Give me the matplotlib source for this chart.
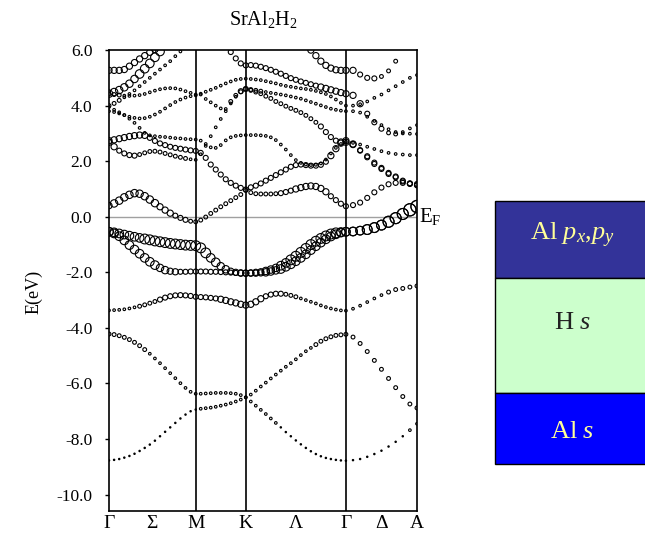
import numpy as np
import matplotlib.pyplot as plt
from matplotlib.patches import Rectangle

plt.rcParams['font.family'] = ['Liberation Serif', 'DejaVu Serif']
plt.rcParams['mathtext.fontset'] = 'custom'
plt.rcParams['mathtext.rm'] = 'Liberation Serif'
plt.rcParams['mathtext.it'] = 'Liberation Serif:italic'
plt.rcParams['axes.unicode_minus'] = False

# === k-path: Γ-M, M-K, K-Γ, Γ-A ===
seg_len = [0.866, 0.5, 1.0, 0.71]
seg_steps = [17, 10, 20, 10]
k_labels = ["Γ", "Σ", "M", "K", "Λ", "Γ", "Δ", "A"]

# === bands (eV), one value per k-point: 18 | 10 | 20 | 10 ===
band_1 = [-8.77, -8.75, -8.72, -8.67, -8.61, -8.53, -8.43, -8.32, -8.2, -8.06, -7.9, -7.74, -7.58, -7.42, -7.26, -7.12, -7.0, -6.94,
          -6.91, -6.89, -6.87, -6.84, -6.8, -6.76, -6.71, -6.65, -6.58, -6.5,
          -6.65, -6.8, -6.95, -7.1, -7.26, -7.42, -7.58, -7.75, -7.9, -8.05, -8.19, -8.32, -8.44, -8.54, -8.62, -8.68, -8.72, -8.75, -8.77, -8.78,
          -8.76, -8.72, -8.64, -8.54, -8.42, -8.27, -8.1, -7.9, -7.68, -7.45]
band_2 = [-4.22, -4.24, -4.28, -4.34, -4.42, -4.52, -4.64, -4.78, -4.93, -5.1, -5.27, -5.45, -5.63, -5.81, -5.99, -6.16, -6.3, -6.37,
          -6.37, -6.36, -6.35, -6.34, -6.34, -6.34, -6.35, -6.37, -6.42, -6.5,
          -6.4, -6.26, -6.11, -5.97, -5.82, -5.68, -5.54, -5.4, -5.27, -5.13, -4.98, -4.84, -4.72, -4.6, -4.48, -4.39, -4.32, -4.27, -4.25, -4.23,
          -4.33, -4.56, -4.85, -5.17, -5.49, -5.82, -6.15, -6.47, -6.74, -6.88]
band_3 = [-3.37, -3.36, -3.35, -3.33, -3.3, -3.26, -3.22, -3.17, -3.11, -3.05, -2.98, -2.91, -2.86, -2.83, -2.82, -2.83, -2.85, -2.88,
          -2.89, -2.9, -2.92, -2.94, -2.97, -3.01, -3.06, -3.1, -3.15, -3.18,
          -3.15, -3.06, -2.95, -2.86, -2.8, -2.77, -2.77, -2.79, -2.83, -2.88, -2.94, -3.0, -3.06, -3.12, -3.19, -3.25, -3.3, -3.34, -3.37, -3.38,
          -3.31, -3.2, -3.07, -2.94, -2.82, -2.71, -2.62, -2.58, -2.53, -2.49]
band_4 = [-0.54, -0.6, -0.7, -0.85, -1.02, -1.18, -1.33, -1.48, -1.62, -1.74, -1.84, -1.92, -1.96, -1.98, -1.98, -1.98, -1.97, -1.97,
          -1.97, -1.97, -1.98, -1.98, -1.99, -2.0, -2.01, -2.02, -2.03, -2.03,
          -2.03, -2.03, -2.02, -2.0, -1.97, -1.93, -1.88, -1.8, -1.71, -1.6, -1.48, -1.35, -1.2, -1.06, -0.93, -0.81, -0.71, -0.63, -0.57, -0.54,
          -0.53, -0.5, -0.46, -0.39, -0.3, -0.18, -0.05, 0.1, 0.25, 0.37]
band_5 = [-0.54, -0.56, -0.6, -0.64, -0.68, -0.72, -0.76, -0.8, -0.83, -0.87, -0.9, -0.93, -0.96, -0.98, -1.0, -1.02, -1.03, -1.04,
          -1.12, -1.3, -1.48, -1.64, -1.78, -1.89, -1.96, -2.0, -2.02, -2.03,
          -2.02, -2.0, -1.98, -1.95, -1.9, -1.84, -1.76, -1.66, -1.55, -1.42, -1.28, -1.14, -1.0, -0.88, -0.78, -0.69, -0.62, -0.58, -0.55, -0.54,
          -0.53, -0.5, -0.46, -0.39, -0.3, -0.18, -0.05, 0.1, 0.25, 0.37]
band_6 = [0.4, 0.48, 0.58, 0.7, 0.79, 0.85, 0.83, 0.74, 0.62, 0.49, 0.36, 0.24, 0.13, 0.04, -0.04, -0.11, -0.16, -0.18,
          -0.12, -0.01, 0.12, 0.24, 0.36, 0.47, 0.58, 0.69, 0.8, 0.95,
          0.87, 0.83, 0.82, 0.82, 0.82, 0.83, 0.85, 0.89, 0.94, 1.0, 1.05, 1.09, 1.11, 1.09, 1.02, 0.9, 0.74, 0.6, 0.47, 0.38,
          0.42, 0.51, 0.68, 0.88, 1.05, 1.17, 1.22, 1.22, 1.2, 1.18]
band_7 = [2.74, 2.77, 2.81, 2.85, 2.89, 2.92, 2.94, 2.93, 2.84, 2.73, 2.64, 2.58, 2.52, 2.48, 2.45, 2.42, 2.39, 2.37,
          2.3, 2.12, 1.88, 1.7, 1.52, 1.35, 1.22, 1.12, 1.04, 0.98,
          1.06, 1.12, 1.2, 1.3, 1.4, 1.5, 1.6, 1.7, 1.8, 1.86, 1.88, 1.86, 1.84, 1.84, 1.87, 1.98, 2.2, 2.45, 2.65, 2.74,
          2.62, 2.38, 2.14, 1.9, 1.72, 1.54, 1.42, 1.27, 1.18, 1.13]
band_8 = [2.68, 2.52, 2.38, 2.28, 2.22, 2.2, 2.24, 2.3, 2.35, 2.36, 2.33, 2.28, 2.23, 2.18, 2.14, 2.1, 2.07, 2.05,
          2.25, 2.55, 2.9, 3.22, 3.52, 3.8, 4.08, 4.32, 4.5, 4.6,
          4.55, 4.49, 4.43, 4.34, 4.26, 4.15, 4.07, 3.98, 3.9, 3.83, 3.75, 3.65, 3.53, 3.4, 3.25, 3.05, 2.87, 2.74, 2.69, 2.68,
          2.6, 2.4, 2.18, 1.95, 1.76, 1.58, 1.45, 1.3, 1.2, 1.15]
band_9 = [3.95, 3.85, 3.76, 3.66, 3.53, 3.38, 3.2, 3.02, 2.93, 2.9, 2.88, 2.87, 2.85, 2.83, 2.82, 2.8, 2.79, 2.78,
          2.74, 2.62, 2.5, 2.48, 2.58, 2.75, 2.86, 2.91, 2.93, 2.94,
          2.94, 2.94, 2.93, 2.91, 2.86, 2.76, 2.6, 2.42, 2.22, 2.04, 1.94, 1.88, 1.86, 1.87, 1.92, 2.06, 2.28, 2.48, 2.62, 2.7,
          2.66, 2.6, 2.52, 2.44, 2.36, 2.3, 2.26, 2.24, 2.22, 2.22]
band_10 = [3.8, 3.77, 3.72, 3.66, 3.6, 3.56, 3.54, 3.55, 3.6, 3.68, 3.78, 3.9, 4.02, 4.13, 4.22, 4.29, 4.34, 4.37,
           4.43, 4.5, 4.57, 4.64, 4.72, 4.8, 4.87, 4.93, 4.96, 4.97,
           4.96, 4.94, 4.92, 4.88, 4.84, 4.8, 4.75, 4.71, 4.68, 4.65, 4.62, 4.6, 4.57, 4.53, 4.48, 4.42, 4.33, 4.22, 4.1, 4.0,
           4.0, 4.05, 4.15, 4.28, 4.4, 4.55, 4.7, 4.85, 5.0, 5.1]
band_11 = [4.42, 4.4, 4.38, 4.36, 4.35, 4.36, 4.38, 4.42, 4.48, 4.54, 4.59, 4.62, 4.63, 4.62, 4.58, 4.52, 4.46, 4.4,
           4.4, 4.24, 4.12, 4.0, 3.9, 3.88, 4.15, 4.37, 4.52, 4.6,
           4.58, 4.55, 4.52, 4.49, 4.46, 4.43, 4.4, 4.37, 4.33, 4.29, 4.25, 4.19, 4.13, 4.07, 4.01, 3.95, 3.89, 3.85, 3.82, 3.8,
           3.8, 3.75, 3.6, 3.45, 3.3, 3.15, 3.05, 3.0, 2.99, 2.98]
band_12 = [4.0, 4.08, 4.19, 4.3, 4.42, 4.55, 4.7, 4.85, 5.0, 5.15, 5.3, 5.45, 5.6, 5.78, 5.95, 6.15, 6.35, 6.5,
           6.6, 6.6, 6.6, 6.6, 6.5, 6.2, 5.93, 5.7, 5.52, 5.45,
           5.46, 5.44, 5.4, 5.35, 5.29, 5.22, 5.15, 5.07, 4.99, 4.93, 4.87, 4.82, 4.77, 4.72, 4.67, 4.62, 4.57, 4.52, 4.47, 4.43,
           4.37, 4.07, 3.71, 3.4, 3.17, 3.02, 2.98, 3.05, 3.18, 3.3]
band_13 = [4.43, 4.49, 4.56, 4.66, 4.79, 4.96, 5.14, 5.33, 5.52, 5.74, 5.95, 6.2, 6.6, 6.6, 6.6, 6.6, 6.6, 6.6,
           6.6, 6.6, 6.6, 6.6, 6.6, 6.6, 6.6, 6.6, 6.6, 6.6,
           6.6, 6.6, 6.6, 6.6, 6.6, 6.6, 6.6, 6.6, 6.6, 6.6, 6.6, 6.6, 6.6, 6.6, 6.6, 6.6, 6.6, 6.6, 6.6, 6.6,
           6.6, 6.6, 6.6, 6.6, 6.6, 6.6, 6.6, 6.6, 6.6, 6.6]
band_14 = [5.27, 5.27, 5.27, 5.3, 5.42, 5.55, 5.68, 5.8, 5.92, 6.02, 6.6, 6.6, 6.6, 6.6, 6.6, 6.6, 6.6, 6.6,
           6.6, 6.6, 6.6, 6.6, 6.6, 6.6, 6.6, 6.6, 6.6, 6.6,
           6.6, 6.6, 6.6, 6.6, 6.6, 6.6, 6.6, 6.6, 6.6, 6.6, 6.6, 6.3, 6.0, 5.8, 5.6, 5.45, 5.35, 5.29, 5.27, 5.27,
           5.27, 5.12, 5.0, 4.98, 5.05, 5.25, 5.6, 6.1, 6.6, 6.6]

# orbital weight per k-point as digits 0-9 (circle size)
weight_1 = "000000000000000000 1111111111 11111100000000000000 0000000011"
weight_2 = "222222221111111111 1111111111 11111111111112222222 2222222222"
weight_3 = "111111222233333333 3333444444 44433332221111111111 1111122222"
weight_4 = "666666666655443333 3333333344 44455566666666666666 6677788899"
weight_5 = "666666677777777777 7766554444 44455566777777777766 6677788899"
weight_6 = "455555555544433322 2222222222 22222233344444443333 3333333333"
weight_7 = "444444443333333333 3333333333 33333333333333334444 4333333333"
weight_8 = "443333222222222211 1111111122 22222222222222333344 4333333333"
weight_9 = "111111111111111111 1111111111 11111111111111111111 1111111111"
weight_10 = "111111111111111111 1111111111 11111111111111111111 1111111111"
weight_11 = "222111111111111111 1111112233 22211111111111111111 1111111111"
weight_12 = "222111111111111111 0000003333 33333333333333444444 4433322111"
weight_13 = "555555666660000000 0000000000 00000000000000000000 0000000000"
weight_14 = "444444444440000000 0000000000 00000000000444444444 4333222111"

bands = [band_1, band_2, band_3, band_4, band_5, band_6, band_7,
         band_8, band_9, band_10, band_11, band_12, band_13, band_14]
weights = [weight_1, weight_2, weight_3, weight_4, weight_5, weight_6, weight_7,
           weight_8, weight_9, weight_10, weight_11, weight_12, weight_13, weight_14]

# legend boxes: (label, face colour, text colour)
legend_items = [(r"Al $p_x$,$p_y$", "#333399", "#FFFF99"),
                (r"H $s$", "#CCFFCC", "#222222"),
                (r"Al $s$", "#0000FF", "#FFFF99")]

# k-point coordinates
nodes = np.concatenate([[0], np.cumsum(seg_len)])
k = [np.array([0.0])]
for a, b, n in zip(nodes[:-1], nodes[1:], seg_steps):
    k.append(np.linspace(a, b, n + 1)[1:])
k = np.concatenate(k)

fig = plt.figure(figsize=(6.45, 5.35), dpi=100)
ax = fig.add_axes([0.169, 0.0454, 0.4775, 0.861])

for e, w in zip(bands, weights):
    w = np.array([int(c) for c in w.replace(" ", "")])
    diam = 1.4 + 1.2 * w          # px
    s = (diam * 0.72) ** 2
    ax.scatter(k, e, s=s, facecolors="none", edgecolors="black",
               linewidths=0.8, zorder=3)

for x in nodes[1:-1]:
    ax.axvline(x, color="black", lw=1.2, zorder=2)
ax.axhline(0.0, color="#a0a0a0", lw=1.0, zorder=1)

ax.set_xlim(nodes[0], nodes[-1])
ax.set_ylim(-10.58, 6.0)
ax.set_yticks(np.arange(-10, 7, 2))
ax.set_yticklabels([f"{v:.1f}" for v in np.arange(-10, 7, 2)], fontsize=12.5)
xt = [nodes[0], (nodes[0] + nodes[1]) / 2, nodes[1], nodes[2],
      (nodes[2] + nodes[3]) / 2, nodes[3], (nodes[3] + nodes[4]) / 2, nodes[4]]
ax.set_xticks(xt)
ax.set_xticklabels(k_labels, fontsize=14)
ax.tick_params(axis="x", length=0, pad=3)
ax.tick_params(axis="y", direction="out", length=3, width=1, pad=9)
for sp in ax.spines.values():
    sp.set_linewidth(1.2)

ax.set_ylabel("E(eV)", fontsize=13)
ax.yaxis.set_label_coords(-0.215, 0.475)
ax.set_title(r"SrAl$_2$H$_2$", fontsize=14.5, pad=18)
ax.text(1.008, 0.0, r"E$_\mathrm{F}$", transform=ax.get_yaxis_transform(),
        fontsize=15, va="center", ha="left")

# legend boxes on the right
box_y = [(0.481, 0.1439), (0.266, 0.215), (0.1327, 0.1333)]
for (label, fc, tc), (y0, h) in zip(legend_items, box_y):
    fig.add_artist(Rectangle((0.7674, y0), 0.26, h, transform=fig.transFigure,
                             facecolor=fc, edgecolor="black", lw=1.0))
top_text_y = [0.56, 0.397, 0.193]
for (label, fc, tc), ty in zip(legend_items, top_text_y):
    fig.text(0.887, ty, label, color=tc, fontsize=19, ha="center", va="center")

plt.savefig("out.png", dpi=100)
